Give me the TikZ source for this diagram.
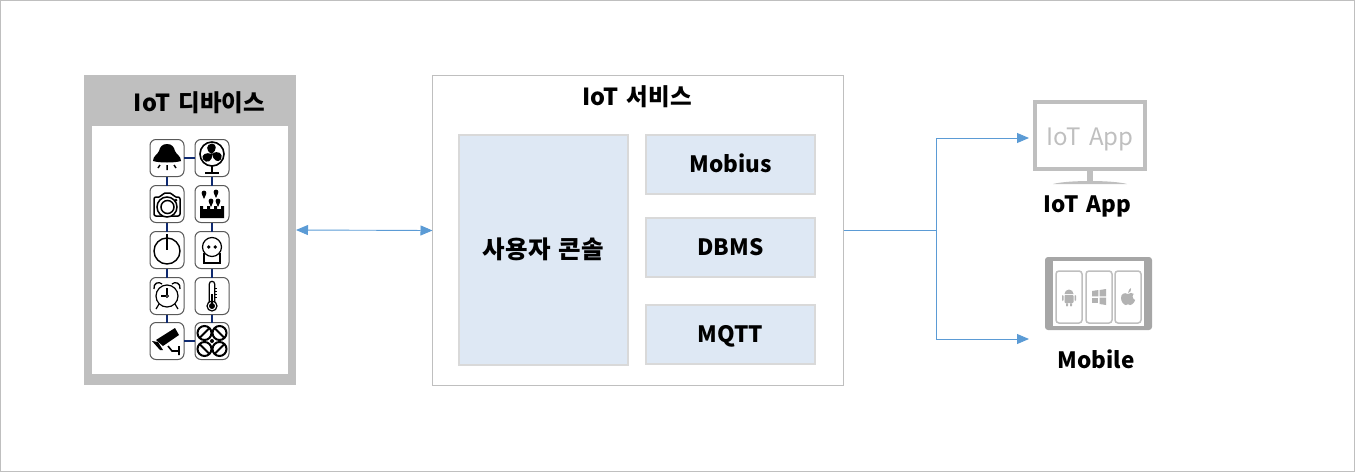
\documentclass[tikz,border=0pt]{standalone}
\usepackage{fontspec}
\setmainfont[WordSpace=1.5]{Noto Sans CJK KR}
\usetikzlibrary{arrows.meta}
\definecolor{frameGray}{HTML}{BFBFBF}
\definecolor{boxBlue}{HTML}{DEE8F4}
\definecolor{boxEdge}{HTML}{D9D9D9}
\definecolor{flowBlue}{HTML}{5B9BD5}
\definecolor{linkNavy}{HTML}{0F2A70}
\definecolor{tileEdge}{HTML}{595959}
\definecolor{tabletGray}{HTML}{A6A6A6}
\definecolor{logoGray}{HTML}{B2B2B2}
\tikzset{
    plainbox/.style={rectangle,inner sep=0pt,outer sep=0pt},
    servicebox/.style={plainbox,draw=boxEdge,line width=1.6pt,fill=boxBlue,text height=20,text depth=4,font=\fontsize{22.5}{27}\selectfont\bfseries},
    title/.style={inner sep=0pt,font=\fontsize{23.5}{27}\selectfont\bfseries},
    caption/.style={inner sep=0pt,font=\fontsize{22.5}{27}\selectfont\bfseries},
    tile/.style={plainbox,draw=tileEdge,line width=1pt,rounded corners=6pt,minimum width=34,minimum height=37,fill=white},
    link/.style={draw=linkNavy,line width=2.5pt},
    flow/.style={draw=flowBlue,line width=0.9pt},
    phone/.style={plainbox,draw=frameGray,line width=1.5pt,rounded corners=3pt,minimum width=26,minimum height=52,fill=white}
}
\newcommand{\iconBell}[1]{
    \begin{scope}[shift={(#1)}]
        \fill (0,-14) .. controls (-5,-14) and (-7,-11) .. (-8,-7) .. controls (-9,-4) and (-14,-2) .. (-14,3) .. controls (-8,5) and (8,5) .. (14,3) .. controls (14,-2) and (9,-4) .. (8,-7) .. controls (7,-11) and (5,-14) .. (0,-14);
        \draw[line width=1.5pt] (0,7) -- (0,12) (-7,7) -- (-9,10) (7,7) -- (9,10);
    \end{scope}
}
\newcommand{\iconFan}[1]{
    \begin{scope}[shift={(#1)}]
        \draw[line width=1.6pt] (0,-4) circle (12);
        \foreach \a in {0,120,240} {
            \fill[rotate around={\a:(0,-4)}] (0,-4) .. controls (-7,-7) and (-6,-14) .. (0,-14.5) .. controls (5,-14) and (5,-8) .. (0,-4);
        }
        \draw[line width=1.6pt] (0,8) -- (0,15) (-7,15) -- (7,15);
    \end{scope}
}
\newcommand{\iconCamera}[1]{
    \begin{scope}[shift={(#1)}]
        \draw[line width=1.5pt,rounded corners=2pt] (-13,-7) -- (-6,-7) -- (-4,-11) -- (5,-11) -- (7,-7) -- (13,-7) -- (13,12) -- (-13,12) -- cycle;
        \draw[line width=1.5pt,fill=white] (0,3) circle (10);
        \draw[line width=1.5pt] (0.5,3) circle (6.5);
        \fill (9,-4) circle (1.5);
    \end{scope}
}
\newcommand{\iconTank}[1]{
    \begin{scope}[shift={(#1)}]
        \fill (-12,14) -- (-12,2) -- (-9,2) -- (-9,5) -- (-5,5) -- (-5,2) -- (-2,2) -- (-2,5) -- (2,5) -- (2,2) -- (5,2) -- (5,5) -- (9,5) -- (9,2) -- (12,2) -- (12,14) -- cycle;
        \foreach \x/\y in {-8/-11,4/-12,-1/-3,6/-3} {
            \fill (\x,\y) circle (2.4);
            \fill (\x-2.2,\y+1) -- (\x+2.2,\y+1) -- (\x,\y+6) -- cycle;
        }
    \end{scope}
}
\newcommand{\iconPower}[1]{
    \begin{scope}[shift={(#1)}]
        \draw[line width=1.4pt] (0,1) circle (13);
        \draw[line width=1.6pt] (0,-16) -- (0,0);
    \end{scope}
}
\newcommand{\iconSocket}[1]{
    \begin{scope}[shift={(#1)}]
        \draw[line width=1.2pt] (-8,3) -- (-8,13) -- (8,13) -- (8,3);
        \draw[line width=1.2pt,fill=white] (0,-3) circle (9.5);
        \fill (-3.3,-3) circle (1.9) (3.3,-3) circle (1.9);
    \end{scope}
}
\newcommand{\iconClock}[1]{
    \begin{scope}[shift={(#1)}]
        \draw[line width=1.2pt] (-8,8) -- (-11,13) (8,8) -- (11,13);
        \draw[line width=1.3pt] (-13,-7) .. controls (-14,-13) and (-8,-15) .. (-5,-12) (13,-7) .. controls (14,-13) and (8,-15) .. (5,-12);
        \draw[line width=1.2pt,fill=white] (0,0) circle (11);
        \draw[line width=1.2pt] (0,-8) -- (0,0) (-6,0) -- (0,0);
        \draw[line width=0.8pt,fill=white] (0,0) circle (1.5);
    \end{scope}
}
\newcommand{\iconThermo}[1]{
    \begin{scope}[shift={(#1)}]
        \draw[line width=1.2pt] (-2.7,6) -- (-2.7,-12) arc (180:360:2.7) -- (2.7,6);
        \draw[line width=1.2pt,fill=white] (0,10) circle (5);
        \fill (0,10) circle (3);
        \draw[line width=1.6pt] (0,10) -- (0,-2);
        \foreach \y in {-8,-5,-2,1} {
            \draw[line width=0.7pt] (2.7,\y) -- (5,\y);
        }
    \end{scope}
}
\newcommand{\iconCctv}[1]{
    \begin{scope}[shift={(#1)}]
        \fill (-11,-1) -- (8,-13) -- (12,-6) -- (-4,5) -- cycle;
        \fill (-15,0) -- (-9,1) -- (-4,9) -- (-7,9) -- cycle;
        \draw[line width=1.6pt] (1,5) -- (5,10) -- (12,10) (12,5) -- (12,14);
    \end{scope}
}
\newcommand{\iconDrone}[1]{
    \begin{scope}[shift={(#1)}]
        \foreach \x/\y/\d in {-7.5/-8/1,7.5/-8/-1,-7.5/8/-1,7.5/8/1} {
            \draw[line width=2pt] (\x,\y) circle (7);
            \draw[line width=2pt] (\x-5,\y+5*\d) -- (\x+5,\y-5*\d);
        }
        \fill (0,0) circle (2);
    \end{scope}
}
\begin{document}
\begin{tikzpicture}[x=1pt,y=-1pt]
            \useasboundingbox (0,0) rectangle (1355,472);
            \draw[frameGray,line width=1pt] (0.5,0.5) rectangle (1354.5,471.5);

            % devices
            \node[plainbox,fill=frameGray,minimum width=212,minimum height=310] (devices) at (190,230) {};
            \node[plainbox,fill=white,minimum width=196,minimum height=248] (devicesInner) at (190,250) {};
            \node[title] (devicesTitle) at (199.5,103) {IoT 디바이스};
            \foreach \name/\x/\y in {lamp/167/158,fan/212/158,camera/167/204,tank/212/204,power/167/250,socket/212/250,clock/167/296,thermo/212/296,cctv/167/341,drone/212/341} {
                \node[tile] (\name) at (\x,\y) {};
            }
            \foreach \from/\to in {lamp/fan,lamp/camera,camera/power,power/clock,clock/cctv,fan/tank,tank/socket,socket/thermo,thermo/drone,cctv/drone} {
                \draw[link] (\from) -- (\to);
            }
            \iconBell{lamp}
            \iconFan{fan}
            \iconCamera{camera}
            \iconTank{tank}
            \iconPower{power}
            \iconSocket{socket}
            \iconClock{clock}
            \iconThermo{thermo}
            \iconCctv{cctv}
            \iconDrone{drone}

            % service
            \node[plainbox,draw=frameGray,line width=1pt,minimum width=411,minimum height=310] (service) at (638,230.5) {};
            \node[title] (serviceTitle) at (637,97) {IoT 서비스};
            \node[servicebox,minimum width=169,minimum height=230,font=\fontsize{24.5}{27}\selectfont\bfseries] (console) at (543.5,250) {사용자 콘솔};
            \node[servicebox,minimum width=169,minimum height=59] (mobius) at (730.5,164.5) {Mobius};
            \node[servicebox,minimum width=169,minimum height=59] (dbms) at (730.5,247.5) {DBMS};
            \node[servicebox,minimum width=169,minimum height=59] (mqtt) at (730.5,334.5) {MQTT};

            % monitor
            \node[plainbox,draw=frameGray,line width=4pt,minimum width=110,minimum height=67] (screen) at (1090,135.5) {};
            \node[inner sep=0pt,text=frameGray,font=\fontsize{24}{28}\selectfont] (screenText) at (1090,139) {IoT App};
            \fill[frameGray] (1087,171) rectangle (1093,181);
            \fill[frameGray] (1053,184) .. controls (1068,180) and (1112,180) .. (1127,184) -- cycle;
            \node[caption] (appLabel) at (1087.5,206) {IoT App};

            % tablet
            \node[plainbox,fill=tabletGray,rounded corners=3pt,minimum width=107,minimum height=73] (tablet) at (1098.5,293.5) {};
            \node[plainbox,fill=white,minimum width=91,minimum height=65] (tabletInner) at (1098.5,293.5) {};
            \node[phone] (android) at (1069,297) {};
            \node[phone] (windows) at (1099,297) {};
            \node[phone] (apple) at (1128,297) {};
            \begin{scope}[shift={(android)},logoGray]
                \fill (-4.5,-3) arc (180:360:4.5) -- cycle;
                \fill[rounded corners=0.8pt] (-4.5,-2) rectangle (4.5,6);
                \fill[rounded corners=0.8pt] (-7,-2) rectangle (-5.5,4) (5.5,-2) rectangle (7,4) (-3,6) rectangle (-1,9.5) (1,6) rectangle (3,9.5);
            \end{scope}
            \begin{scope}[shift={(windows)},logoGray]
                \fill (-7,-6) -- (-0.7,-7) -- (-0.7,-0.7) -- (-7,-0.7) -- cycle;
                \fill (0.7,-7) -- (7,-8) -- (7,-0.7) -- (0.7,-0.7) -- cycle;
                \fill (-7,0.7) -- (-0.7,0.7) -- (-0.7,6) -- (-7,6) -- cycle;
                \fill (0.7,0.7) -- (7,0.7) -- (7,8) -- (0.7,7) -- cycle;
            \end{scope}
            \begin{scope}[shift={(apple)},logoGray]
                \fill (0,-3) .. controls (-4,-5) and (-7,-3) .. (-7,1) .. controls (-7,5) and (-4,8) .. (-2,8) .. controls (-1,7) and (1,7) .. (2,8) .. controls (5,8) and (7,4) .. (7,3) .. controls (4,2) and (4,-3) .. (6,-3) .. controls (4,-5) and (2,-4) .. (0,-3);
                \fill (0,-4) .. controls (0,-7) and (2,-8) .. (3,-9) .. controls (4,-7) and (2,-4) .. (0,-4);
            \end{scope}
            \node[caption] (mobileLabel) at (1096,359.5) {Mobile};

            % connectors
            \draw[flow,{Triangle[length=12pt,width=10pt]}-{Triangle[length=12pt,width=10pt]}] (devices.east) -- (service.west);
            \coordinate (trunk) at (936,230.5);
            \coordinate (appEnd) at (1029,138);
            \coordinate (mobileEnd) at (1029,339);
            \draw[flow] (service.east) -- (trunk);
            \draw[flow,-{Triangle[length=12pt,width=10pt]}] (trunk) |- (appEnd);
            \draw[flow,-{Triangle[length=12pt,width=10pt]}] (trunk) |- (mobileEnd);
\end{tikzpicture}
\end{document}
